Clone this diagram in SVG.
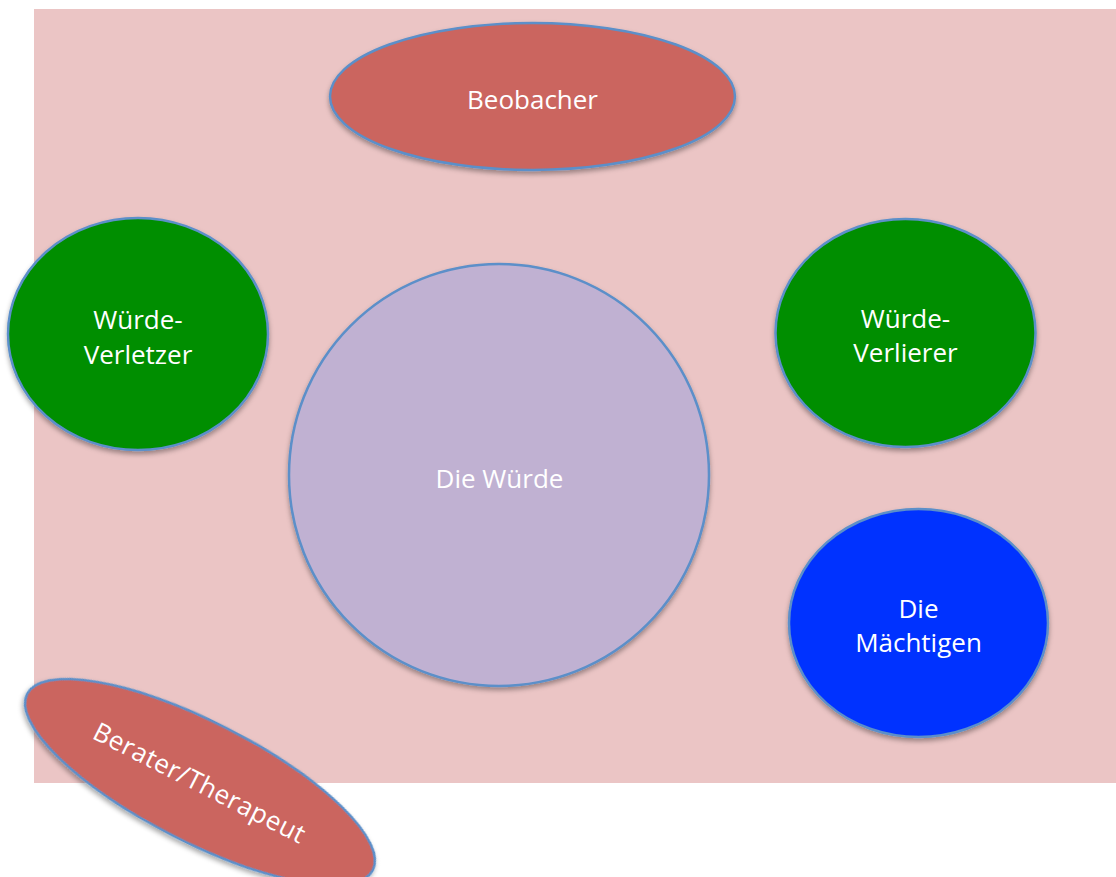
<svg xmlns="http://www.w3.org/2000/svg" width="1116" height="877" viewBox="0 0 1116 877">
<defs>
<filter id="sh" x="-10%" y="-10%" width="120%" height="125%">
<feDropShadow dx="0" dy="3" stdDeviation="2.5" flood-color="#000" flood-opacity="0.35"/>
</filter>
</defs>
<style>
.n{stroke:#5B8FC9;stroke-width:2.5;filter:url(#sh)}
.red{fill:#CB655E}
.green{fill:#008E00}
.blue{fill:#0433FF}
.lav{fill:#C0B1D2}
text{font-family:"Open Sans","Noto Sans","DejaVu Sans",sans-serif;font-size:26px;fill:#fff;text-anchor:middle}
</style>
<rect x="34" y="9" width="1082" height="774" fill="#EBC5C5"/>
<g id="connectors"></g>
<g id="beobacher">
<ellipse class="n red" cx="532.5" cy="96.5" rx="202.5" ry="73.5"/>
<text x="532.5" y="109">Beobacher</text>
</g>
<g id="wuerde-verletzer">
<ellipse class="n green" cx="138" cy="334" rx="130" ry="116"/>
<text x="138" y="329">Würde-</text>
<text x="138" y="364">Verletzer</text>
</g>
<g id="die-wuerde">
<ellipse class="n lav" cx="499" cy="475" rx="210" ry="211"/>
<text x="499.5" y="488">Die Würde</text>
</g>
<g id="wuerde-verlierer">
<ellipse class="n green" cx="905.5" cy="333" rx="130" ry="114"/>
<text x="905.5" y="328">Würde-</text>
<text x="905.5" y="362">Verlierer</text>
</g>
<g id="die-maechtigen">
<ellipse class="n blue" cx="918.5" cy="623" rx="129.5" ry="114"/>
<text x="918.5" y="618">Die</text>
<text x="918.5" y="652">Mächtigen</text>
</g>
<g id="berater-therapeut" transform="translate(200 782) rotate(27)">
<ellipse class="n red" cx="0" cy="0" rx="194" ry="60"/>
<text x="0" y="10" letter-spacing="0.5">Berater/Therapeut</text>
</g>
</svg>
